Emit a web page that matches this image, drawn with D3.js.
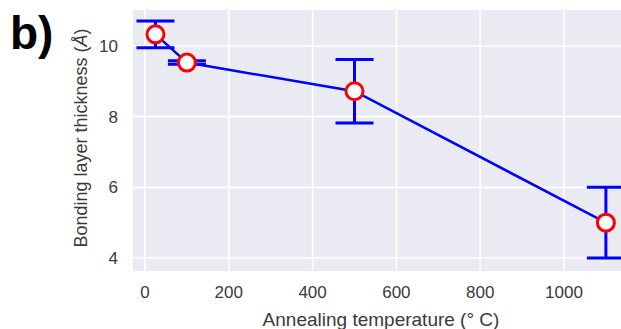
<!DOCTYPE html>
<html><head><meta charset="utf-8">
<script src="https://cdn.jsdelivr.net/npm/d3@7"></script>
<style>body{margin:0;background:#fff;}svg{display:block;font-family:"Liberation Sans",Arial,sans-serif;}</style>
</head><body>
<script>
const temperatures = [25, 100, 500, 1100];
const thickness = [10.33, 9.53, 8.72, 5.0];
const errors = [0.38, 0.05, 0.9, 1.0];
const xTicks = [0, 200, 400, 600, 800, 1000];
const yTicks = [4, 6, 8, 10];

const W = 621, H = 329;
const svg = d3.select("body").append("svg").attr("width", W).attr("height", H);
const plot = {left: 133, top: 10, right: 640, bottom: 271};
const x = d3.scaleLinear().domain([0, 1000]).range([145, 564]);
const y = d3.scaleLinear().domain([4, 10]).range([258, 46]);

svg.append("rect").attr("x", plot.left).attr("y", plot.top)
  .attr("width", plot.right - plot.left).attr("height", plot.bottom - plot.top)
  .attr("fill", "#eaeaf2");

const g = svg.append("g");
g.selectAll("line.vx").data(xTicks).join("line").attr("class","vx")
  .attr("x1", d => x(d)).attr("x2", d => x(d)).attr("y1", plot.top).attr("y2", plot.bottom)
  .attr("stroke", "#fff").attr("stroke-width", 1.6);
g.selectAll("line.hy").data(yTicks).join("line").attr("class","hy")
  .attr("y1", d => y(d)).attr("y2", d => y(d)).attr("x1", plot.left).attr("x2", plot.right)
  .attr("stroke", "#fff").attr("stroke-width", 1.6);

svg.selectAll("text.xt").data(xTicks).join("text").attr("class","xt")
  .attr("x", d => x(d)).attr("y", 298).attr("text-anchor","middle")
  .attr("font-size", 17).attr("fill", "#3a3a3a").text(d => d);
svg.selectAll("text.yt").data(yTicks).join("text").attr("class","yt")
  .attr("x", 118).attr("y", d => y(d) + 6).attr("text-anchor","end")
  .attr("font-size", 17).attr("fill", "#3a3a3a").text(d => d);

svg.append("text").attr("x", 381).attr("y", 326).attr("text-anchor","middle")
  .attr("font-size", 19).attr("fill", "#3a3a3a").text("Annealing temperature (° C)");
svg.append("text").attr("transform", "translate(87,138) rotate(-90)").attr("text-anchor","middle")
  .attr("font-size", 18).attr("fill", "#3a3a3a")
  .html('Bonding layer thickness (<tspan font-style="italic">Å</tspan>)');

svg.append("text").attr("x", 10).attr("y", 49).attr("font-size", 46).attr("font-weight","bold")
  .attr("fill", "#000").text("b)");

const pts = temperatures.map((t, i) => ({t, v: thickness[i], e: errors[i]}));
const blue = "#0000ff";
svg.append("path").datum(pts)
  .attr("d", d3.line().x(d => x(d.t)).y(d => y(d.v)))
  .attr("fill","none").attr("stroke", blue).attr("stroke-width", 2.5);
const eb = svg.append("g").attr("stroke", blue).attr("stroke-width", 3);
eb.selectAll("line.v").data(pts).join("line")
  .attr("x1", d => x(d.t)).attr("x2", d => x(d.t)).attr("y1", d => y(d.v - d.e)).attr("y2", d => y(d.v + d.e));
eb.selectAll("line.c1").data(pts).join("line")
  .attr("x1", d => x(d.t) - 19).attr("x2", d => x(d.t) + 19).attr("y1", d => y(d.v + d.e)).attr("y2", d => y(d.v + d.e));
eb.selectAll("line.c2").data(pts).join("line")
  .attr("x1", d => x(d.t) - 19).attr("x2", d => x(d.t) + 19).attr("y1", d => y(d.v - d.e)).attr("y2", d => y(d.v - d.e));
svg.selectAll("circle.m").data(pts).join("circle").attr("class","m")
  .attr("cx", d => x(d.t)).attr("cy", d => y(d.v)).attr("r", 8.5)
  .attr("fill", "#fff").attr("stroke", "#ff0000").attr("stroke-width", 3);
</script>
</body></html>
